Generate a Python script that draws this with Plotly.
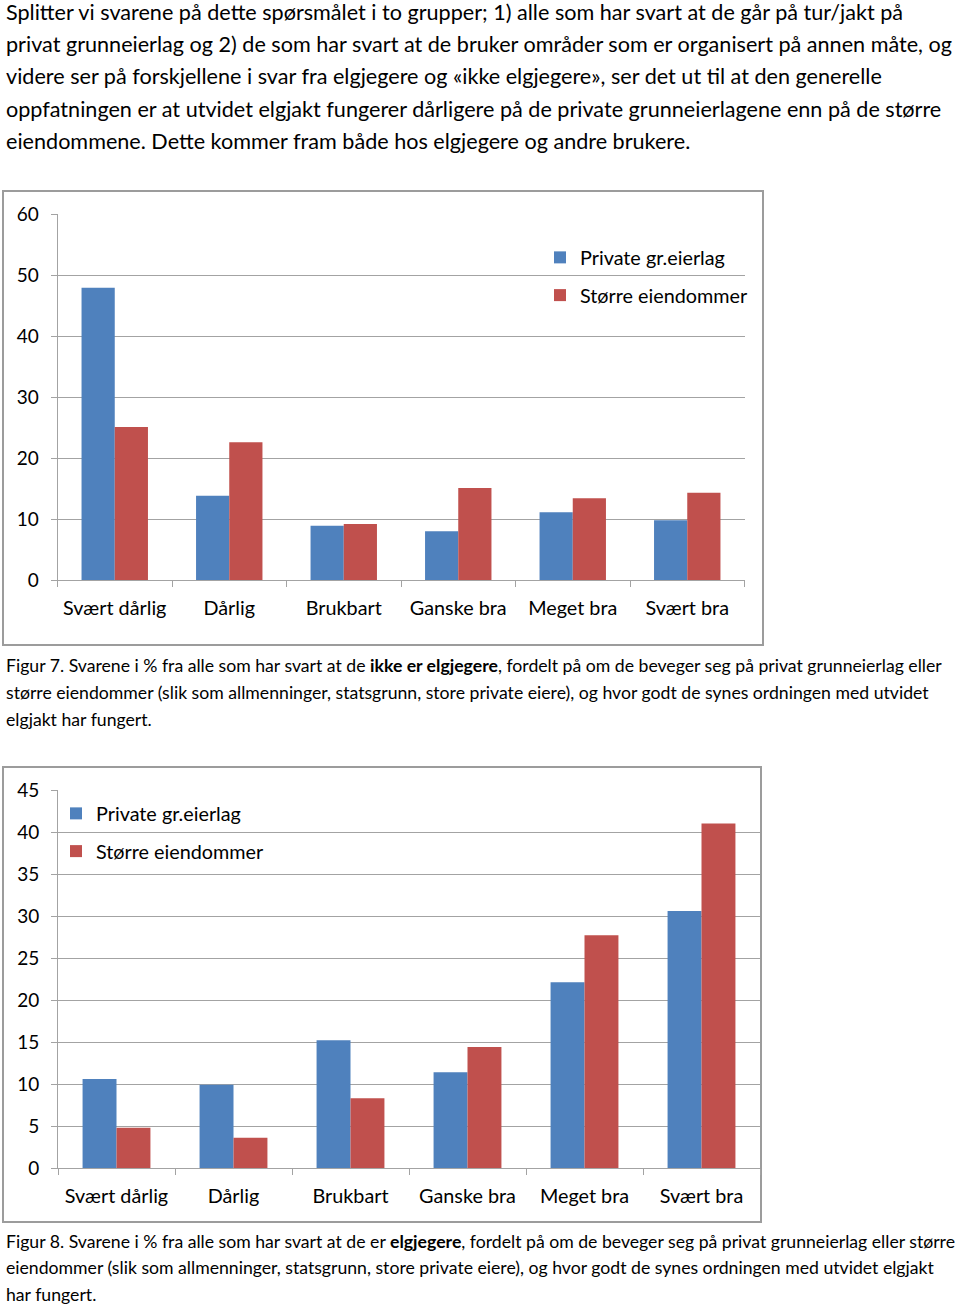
import plotly.graph_objects as go

categories = ["Svært dårlig", "Dårlig", "Brukbart", "Ganske bra", "Meget bra", "Svært bra"]
series_names = ["Private gr.eierlag", "Større eiendommer"]

# Figur 7: ikke elgjegere
fig7_private = [47.9, 13.8, 8.9, 8.0, 11.1, 9.8]
fig7_storre = [25.1, 22.6, 9.2, 15.1, 13.4, 14.3]
fig7_ticks = [0, 10, 20, 30, 40, 50, 60]

# Figur 8: elgjegere
fig8_private = [10.6, 9.9, 15.2, 11.4, 22.1, 30.6]
fig8_storre = [4.8, 3.6, 8.3, 14.4, 27.7, 41.0]
fig8_ticks = [0, 5, 10, 15, 20, 25, 30, 35, 40, 45]

paragraph = [
    "Splitter vi svarene på dette spørsmålet i to grupper; 1) alle som har svart at de går på tur/jakt på",
    "privat grunneierlag og 2) de som har svart at de bruker områder som er organisert på annen måte, og",
    "videre ser på forskjellene i svar fra elgjegere og «ikke elgjegere», ser det ut til at den generelle",
    "oppfatningen er at utvidet elgjakt fungerer dårligere på de private grunneierlagene enn på de større",
    "eiendommene. Dette kommer fram både hos elgjegere og andre brukere.",
]
caption7 = [
    "Figur 7. Svarene i % fra alle som har svart at de <b>ikke er elgjegere</b>, fordelt på om de beveger seg på privat grunneierlag eller",
    "større eiendommer (slik som allmenninger, statsgrunn, store private eiere), og hvor godt de synes ordningen med utvidet",
    "elgjakt har fungert.",
]
caption8 = [
    "Figur 8. Svarene i % fra alle som har svart at de er <b>elgjegere</b>, fordelt på om de beveger seg på privat grunneierlag eller større",
    "eiendommer (slik som allmenninger, statsgrunn, store private eiere), og hvor godt de synes ordningen med utvidet elgjakt",
    "har fungert.",
]

W, H = 960, 1308
BLUE = "#4F81BD"
RED = "#C0504D"
GRID = "#A3A3A3"
FONT = "Lato"


def px(x):
    return x / W


def py(y):
    return 1 - y / H


fig = go.Figure()
colors = [BLUE, RED]
for i, (vals, name) in enumerate(zip([fig7_private, fig7_storre], series_names)):
    fig.add_trace(go.Bar(x=categories, y=vals, name=name, marker=dict(color=colors[i], line=dict(width=0)),
                         xaxis="x", yaxis="y", legend="legend", legendgroup="a%d" % i))
for i, (vals, name) in enumerate(zip([fig8_private, fig8_storre], series_names)):
    fig.add_trace(go.Bar(x=categories, y=vals, name=name, marker=dict(color=colors[i], line=dict(width=0)),
                         xaxis="x2", yaxis="y2", legend="legend2", legendgroup="b%d" % i))

axis_common = dict(showline=True, linecolor=GRID, linewidth=1, ticks="outside", ticklen=6, tickcolor=GRID,
                   fixedrange=True, automargin=False)
xfont = dict(family=FONT, size=19.8, color="#000000")
yfont = dict(family=FONT, size=19, color="#000000")

fig.update_layout(
    template="none",
    width=W, height=H, margin=dict(l=0, r=0, t=0, b=0, pad=0, autoexpand=False),
    paper_bgcolor="white", plot_bgcolor="white",
    barmode="group", bargap=0.42, bargroupgap=0,
    font=dict(family=FONT, color="#000000"),
    xaxis=dict(domain=[px(57.5), px(744.5)], anchor="y", tickson="boundaries", showgrid=False,
               tickfont=xfont, ticklabelstandoff=10, **axis_common),
    yaxis=dict(domain=[py(580), py(214)], anchor="x", range=[0, 60], tickvals=fig7_ticks, showgrid=True,
               gridcolor=GRID, gridwidth=1, ticklabelstandoff=8, zeroline=False, tickfont=yfont, **axis_common),
    xaxis2=dict(domain=[px(58), px(760)], anchor="y2", tickson="boundaries", showgrid=False,
                tickfont=xfont, ticklabelstandoff=10, **axis_common),
    yaxis2=dict(domain=[py(1168), py(790)], anchor="x2", range=[0, 45], tickvals=fig8_ticks, showgrid=True,
                gridcolor=GRID, gridwidth=1, ticklabelstandoff=8, zeroline=False, tickfont=yfont, **axis_common),
    legend=dict(x=px(540), y=py(238), xanchor="left", yanchor="top", bgcolor="rgba(0,0,0,0)",
                font=dict(family=FONT, size=19.8), tracegroupgap=9, traceorder="grouped"),
    legend2=dict(x=px(56), y=py(794), xanchor="left", yanchor="top", bgcolor="rgba(0,0,0,0)",
                 font=dict(family=FONT, size=19.8), tracegroupgap=9, traceorder="grouped"),
    showlegend=True,
)

# chart frames
for (x0, y0, x1, y1) in [(3, 191, 763, 645), (3, 767, 761, 1222)]:
    fig.add_shape(type="rect", xref="paper", yref="paper", x0=px(x0), x1=px(x1), y0=py(y1), y1=py(y0),
                  line=dict(color="#9C9C9C", width=2), fillcolor="rgba(0,0,0,0)", layer="below")

anns = []
for i, line in enumerate(paragraph):
    anns.append(dict(text=line, x=px(4), y=py(12 + i * 32.2), xref="paper", yref="paper", xanchor="left",
                     yanchor="middle", showarrow=False, font=dict(family=FONT, size=21.6, color="#000000")))
for caps, y0 in [(caption7, 666), (caption8, 1241)]:
    for i, line in enumerate(caps):
        anns.append(dict(text=line, x=px(4), y=py(y0 + i * 26.7), xref="paper", yref="paper", xanchor="left",
                         yanchor="middle", showarrow=False, font=dict(family=FONT, size=17.65, color="#000000")))
fig.update_layout(annotations=anns)

fig.write_html("out.html", config={"displayModeBar": False},
               post_script="document.body.style.margin='0';document.body.style.padding='0';")
